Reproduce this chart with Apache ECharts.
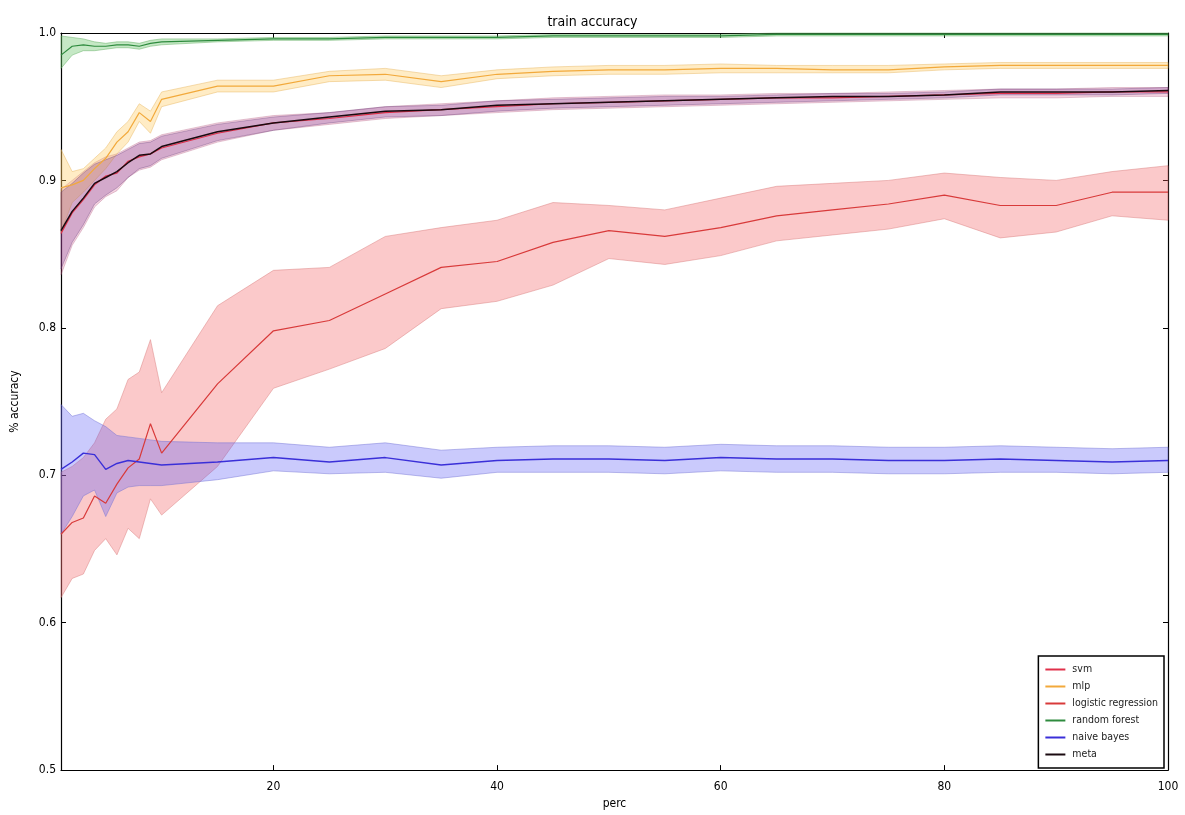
<!DOCTYPE html>
<html>
<head>
<meta charset="utf-8">
<title>train accuracy</title>
<script src="https://cdn.jsdelivr.net/npm/echarts@6/dist/echarts.min.js"></script>
<style>
  html, body { margin: 0; padding: 0; background: #fff; }
  #chart { width: 1185px; height: 815px; }
</style>
</head>
<body>
<div id="chart"></div>
<script>
// training-set size (percent of data used)
const perc = [1, 2, 3, 4, 5, 6, 7, 8, 9, 10, 15, 20, 25, 30, 35, 40, 45, 50, 55, 60, 65, 70, 75, 80, 85, 90, 95, 100];

const xTicks = [20, 40, 60, 80, 100];
const yTicks = [0.5, 0.6, 0.7, 0.8, 0.9, 1.0];

// svm: mean accuracy and spread
const svmMean = [0.864, 0.878, 0.887, 0.897, 0.903, 0.905, 0.913, 0.916, 0.918, 0.922, 0.932, 0.939, 0.942, 0.946, 0.948, 0.950, 0.952, 0.953, 0.954, 0.955, 0.956, 0.956, 0.957, 0.958, 0.959, 0.959, 0.960, 0.960];
const svmLo   = [0.836, 0.856, 0.868, 0.882, 0.889, 0.893, 0.902, 0.907, 0.909, 0.914, 0.926, 0.934, 0.938, 0.942, 0.944, 0.946, 0.948, 0.949, 0.950, 0.951, 0.952, 0.953, 0.954, 0.955, 0.956, 0.956, 0.957, 0.957];
const svmHi   = [0.894, 0.900, 0.906, 0.912, 0.916, 0.918, 0.922, 0.926, 0.927, 0.931, 0.939, 0.944, 0.946, 0.950, 0.952, 0.954, 0.956, 0.957, 0.958, 0.958, 0.959, 0.959, 0.960, 0.961, 0.962, 0.962, 0.963, 0.963];

// mlp
const mlpMean = [0.895, 0.897, 0.900, 0.908, 0.915, 0.926, 0.933, 0.946, 0.940, 0.955, 0.964, 0.964, 0.971, 0.972, 0.967, 0.972, 0.974, 0.975, 0.975, 0.976, 0.976, 0.975, 0.975, 0.977, 0.978, 0.978, 0.978, 0.978];
const mlpLo   = [0.865, 0.885, 0.892, 0.900, 0.908, 0.918, 0.926, 0.940, 0.932, 0.950, 0.960, 0.960, 0.967, 0.968, 0.963, 0.969, 0.971, 0.972, 0.972, 0.973, 0.973, 0.973, 0.973, 0.975, 0.976, 0.976, 0.976, 0.976];
const mlpHi   = [0.921, 0.906, 0.908, 0.915, 0.922, 0.933, 0.940, 0.952, 0.947, 0.960, 0.968, 0.968, 0.974, 0.976, 0.971, 0.975, 0.977, 0.978, 0.978, 0.979, 0.978, 0.978, 0.978, 0.979, 0.980, 0.980, 0.980, 0.980];

// logistic regression
const lrMean = [0.660, 0.668, 0.671, 0.686, 0.681, 0.694, 0.705, 0.711, 0.735, 0.715, 0.762, 0.798, 0.805, 0.823, 0.841, 0.845, 0.858, 0.866, 0.862, 0.868, 0.876, 0.880, 0.884, 0.890, 0.883, 0.883, 0.892, 0.892];
const lrLo   = [0.617, 0.630, 0.633, 0.649, 0.657, 0.646, 0.664, 0.657, 0.684, 0.673, 0.706, 0.759, 0.772, 0.786, 0.813, 0.818, 0.829, 0.847, 0.843, 0.849, 0.859, 0.863, 0.867, 0.874, 0.861, 0.865, 0.876, 0.873];
const lrHi   = [0.702, 0.706, 0.712, 0.722, 0.738, 0.745, 0.765, 0.770, 0.792, 0.756, 0.815, 0.839, 0.841, 0.862, 0.868, 0.873, 0.885, 0.883, 0.880, 0.888, 0.896, 0.898, 0.900, 0.905, 0.902, 0.900, 0.906, 0.910];

// random forest
const rfMean = [0.985, 0.991, 0.992, 0.991, 0.991, 0.992, 0.992, 0.991, 0.993, 0.994, 0.995, 0.996, 0.996, 0.997, 0.997, 0.997, 0.998, 0.998, 0.998, 0.998, 0.999, 0.999, 0.999, 0.999, 0.999, 0.999, 0.999, 0.999];
const rfLo   = [0.976, 0.985, 0.988, 0.988, 0.989, 0.990, 0.990, 0.989, 0.991, 0.992, 0.994, 0.995, 0.995, 0.996, 0.996, 0.996, 0.997, 0.997, 0.997, 0.997, 0.998, 0.998, 0.998, 0.998, 0.998, 0.998, 0.998, 0.998];
const rfHi   = [0.998, 0.997, 0.996, 0.994, 0.993, 0.994, 0.994, 0.993, 0.995, 0.996, 0.996, 0.997, 0.997, 0.998, 0.998, 0.998, 0.999, 0.999, 0.999, 0.999, 1.000, 1.000, 1.000, 1.000, 1.000, 1.000, 1.000, 1.000];

// naive bayes
const nbMean = [0.704, 0.709, 0.715, 0.714, 0.704, 0.708, 0.710, 0.709, 0.708, 0.707, 0.709, 0.712, 0.709, 0.712, 0.707, 0.710, 0.711, 0.711, 0.710, 0.712, 0.711, 0.711, 0.710, 0.710, 0.711, 0.710, 0.709, 0.710];
const nbLo   = [0.660, 0.672, 0.686, 0.690, 0.672, 0.688, 0.692, 0.693, 0.693, 0.693, 0.697, 0.703, 0.701, 0.702, 0.698, 0.702, 0.702, 0.702, 0.701, 0.703, 0.702, 0.702, 0.701, 0.701, 0.702, 0.702, 0.701, 0.702];
const nbHi   = [0.748, 0.740, 0.742, 0.737, 0.733, 0.727, 0.726, 0.725, 0.724, 0.723, 0.722, 0.722, 0.719, 0.722, 0.717, 0.719, 0.720, 0.720, 0.719, 0.721, 0.720, 0.720, 0.719, 0.719, 0.720, 0.719, 0.718, 0.719];

// meta classifier
const metaMean = [0.866, 0.879, 0.888, 0.898, 0.902, 0.906, 0.912, 0.917, 0.918, 0.923, 0.933, 0.939, 0.943, 0.947, 0.948, 0.951, 0.952, 0.953, 0.954, 0.955, 0.956, 0.957, 0.957, 0.958, 0.960, 0.960, 0.960, 0.961];
const metaLo   = [0.840, 0.858, 0.870, 0.884, 0.890, 0.895, 0.902, 0.908, 0.910, 0.915, 0.927, 0.934, 0.939, 0.943, 0.944, 0.947, 0.949, 0.950, 0.951, 0.952, 0.953, 0.954, 0.955, 0.956, 0.958, 0.958, 0.958, 0.959];
const metaHi   = [0.892, 0.898, 0.905, 0.911, 0.914, 0.917, 0.921, 0.925, 0.926, 0.930, 0.938, 0.943, 0.946, 0.950, 0.951, 0.954, 0.955, 0.956, 0.957, 0.957, 0.958, 0.959, 0.959, 0.960, 0.962, 0.962, 0.962, 0.963];

const FONT = '"DejaVu Sans Condensed", "DejaVu Sans", sans-serif';

const models = [
  { name: 'svm',                 mean: svmMean,  lo: svmLo,  hi: svmHi,  line: '#e0304a', width: 1.2, fill: 'rgba(205,60,120,0.22)', edge: 'rgba(170,80,120,0.30)' },
  { name: 'mlp',                 mean: mlpMean,  lo: mlpLo,  hi: mlpHi,  line: '#f2a93b', width: 1.2, fill: 'rgba(255,200,90,0.35)', edge: 'rgba(230,180,90,0.45)' },
  { name: 'logistic regression', mean: lrMean,   lo: lrLo,   hi: lrHi,   line: '#d83a3a', width: 1.2, fill: 'rgba(242,90,95,0.33)',  edge: 'rgba(215,120,120,0.45)' },
  { name: 'random forest',       mean: rfMean,   lo: rfLo,   hi: rfHi,   line: '#2e8b3e', width: 1.2, fill: 'rgba(90,190,90,0.35)',  edge: 'rgba(90,170,90,0.45)' },
  { name: 'naive bayes',         mean: nbMean,   lo: nbLo,   hi: nbHi,   line: '#3a2fd8', width: 1.4, fill: 'rgba(90,90,245,0.32)',  edge: 'rgba(110,110,210,0.45)' },
  { name: 'meta',                mean: metaMean, lo: metaLo, hi: metaHi, line: '#1a0a10', width: 1.5, fill: 'rgba(110,40,140,0.25)', edge: 'rgba(100,60,120,0.35)' }
];

// shaded spread between lo and hi, drawn as one polygon through the axis scales
function bandSeries(m) {
  return {
    type: 'custom',
    name: m.name + ' spread',
    silent: true,
    z: 1,
    encode: { x: 0, y: [1, 2] },
    data: perc.map((x, i) => [x, m.lo[i], m.hi[i]]),
    renderItem: function (params, api) {
      if (params.dataIndexInside !== 0) return null;
      const n = params.dataInsideLength;
      const pts = [];
      for (let i = 0; i < n; i++) pts.push(api.coord([api.value(0, i), api.value(2, i)]));
      for (let i = n - 1; i >= 0; i--) pts.push(api.coord([api.value(0, i), api.value(1, i)]));
      return {
        type: 'polygon',
        shape: { points: pts },
        style: { fill: m.fill, stroke: m.edge, lineWidth: 1 }
      };
    }
  };
}

function lineSeries(m) {
  return {
    type: 'line',
    name: m.name,
    z: 3,
    symbol: 'none',
    animation: false,
    color: m.line,
    lineStyle: { color: m.line, width: m.width },
    data: perc.map((x, i) => [x, m.mean[i]])
  };
}

const series = [];
models.forEach(m => { series.push(lineSeries(m)); series.push(bandSeries(m)); });

const tickStyle = { show: true, inside: true, length: 5, lineStyle: { color: '#000', width: 1 } };

const option = {
  animation: false,
  backgroundColor: '#fff',
  title: {
    text: 'train accuracy',
    left: 'center',
    top: 10,
    textStyle: { fontFamily: FONT, fontSize: 14, fontWeight: 'normal', color: '#000' }
  },
  grid: { left: 61, right: 17, top: 33, bottom: 42, containLabel: false },
  legend: {
    orient: 'vertical',
    right: 21,
    bottom: 47,
    width: 136,
    padding: [8, 6, 8, 7],
    itemGap: 6,
    itemWidth: 20,
    itemHeight: 2,
    icon: 'rect',
    borderColor: '#000',
    borderWidth: 1.5,
    borderRadius: 0,
    backgroundColor: '#fff',
    data: models.map(m => m.name),
    textStyle: { fontFamily: FONT, fontSize: 10.5, color: '#222', padding: [0, 0, 0, 2] }
  },
  xAxis: [
    {
      type: 'value',
      min: 1,
      max: 100,
      name: 'perc',
      nameLocation: 'middle',
      nameGap: 25,
      nameTextStyle: { fontFamily: FONT, fontSize: 12, color: '#000' },
      axisLine: { show: true, onZero: false, lineStyle: { color: '#000', width: 1.2 } },
      axisTick: Object.assign({ customValues: xTicks }, tickStyle),
      axisLabel: { customValues: xTicks, fontFamily: FONT, fontSize: 12, color: '#000', margin: 11 },
      splitLine: { show: false }
    },
    {
      type: 'value',
      position: 'top',
      min: 1,
      max: 100,
      axisLine: { show: true, onZero: false, lineStyle: { color: '#000', width: 1.2 } },
      axisTick: Object.assign({ customValues: xTicks }, tickStyle),
      axisLabel: { show: false },
      splitLine: { show: false }
    }
  ],
  yAxis: [
    {
      type: 'value',
      min: 0.5,
      max: 1.0,
      name: '% accuracy',
      nameLocation: 'middle',
      nameGap: 40,
      nameRotate: 90,
      nameTextStyle: { fontFamily: FONT, fontSize: 12, color: '#000' },
      axisLine: { show: true, onZero: false, lineStyle: { color: '#000', width: 1.2 } },
      axisTick: Object.assign({ customValues: yTicks }, tickStyle),
      axisLabel: {
        customValues: yTicks,
        fontFamily: FONT, fontSize: 12, color: '#000', margin: 5,
        formatter: v => v.toFixed(1)
      },
      splitLine: { show: false }
    },
    {
      type: 'value',
      position: 'right',
      min: 0.5,
      max: 1.0,
      axisLine: { show: true, onZero: false, lineStyle: { color: '#000', width: 1.2 } },
      axisTick: Object.assign({ customValues: yTicks }, tickStyle),
      axisLabel: { show: false },
      splitLine: { show: false }
    }
  ],
  series: series
};

const chart = echarts.init(document.getElementById('chart'), null, { renderer: 'canvas' });
chart.setOption(option);
</script>
</body>
</html>
